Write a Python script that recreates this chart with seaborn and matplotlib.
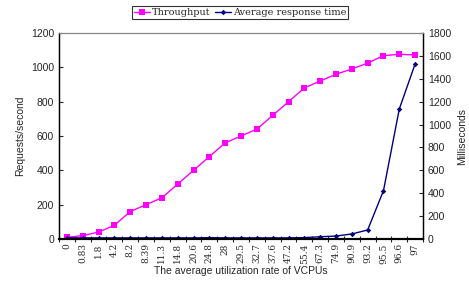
import numpy as np
import pandas as pd
import matplotlib
matplotlib.use('Agg')
import matplotlib.pyplot as plt
import seaborn as sns

# data
utilization = ['0', '0.83', '1.8', '4.2', '8.2', '8.39', '11.3', '14.8', '20.6', '24.8',
               '28', '29.5', '32.7', '37.6', '47.2', '55.4', '67.3', '74.9', '90.9',
               '93.2', '95.5', '96.6', '97']
throughput = [10, 20, 40, 80, 160, 200, 240, 320, 400, 480, 560, 600, 640, 720,
              800, 880, 920, 960, 990, 1025, 1068, 1076, 1072]
response_time = [10, 10, 10, 10, 10, 10, 10, 10, 10, 12, 10, 10, 10, 10,
                 10, 12, 20, 26, 44, 79, 422, 1136, 1530]

df = pd.DataFrame({'pos': np.arange(len(utilization)),
                   'throughput': throughput,
                   'response': response_time})

sns.set_style('white')
plt.rcParams['font.family'] = ['Liberation Sans', 'DejaVu Sans']

fig = plt.figure(figsize=(4.69, 2.87), dpi=100)
ax = fig.add_axes([0.1258, 0.1672, 0.7762, 0.7178])
ax2 = ax.twinx()

sns.lineplot(data=df, x='pos', y='throughput', ax=ax, color='#ff00ff', marker='s',
             markersize=4, markeredgewidth=0, linewidth=1, label='Throughput', legend=False)
sns.lineplot(data=df, x='pos', y='response', ax=ax2, color='#000080', marker='D',
             markersize=2.8, markeredgewidth=0, linewidth=1, label='Average response time',
             legend=False)

ax.set_xlim(-0.5, len(utilization) - 0.5)
ax.set_ylim(0, 1200)
ax.set_yticks(np.arange(0, 1201, 200))
ax2.set_ylim(0, 1800)
ax2.set_yticks(np.arange(0, 1801, 200))

ax.set_xticks(np.arange(len(utilization)))
ax.set_xticklabels(utilization, rotation=90, family='DejaVu Serif', fontsize=6.5)
ax.set_xticks(np.arange(-0.5, len(utilization)), minor=True)
ax.tick_params(axis='x', which='major', length=0, pad=3)
ax.tick_params(axis='x', which='minor', length=4, width=0.8, direction='inout', bottom=True)
ax.tick_params(axis='y', labelsize=7.5, direction='in', length=3, width=0.8, left=True)
ax2.tick_params(axis='y', labelsize=7.5, direction='in', length=3, width=0.8, right=True)

ax.set_xlabel('The average utilization rate of VCPUs', fontsize=7.5, labelpad=2)
ax.set_ylabel('Requests/second', fontsize=7.5)
ax2.set_ylabel('Milliseconds', fontsize=7.5)

for a in (ax, ax2):
    a.spines['top'].set_color('#888888')
    a.spines['top'].set_linewidth(0.8)
    a.spines['left'].set_color('black')
    a.spines['right'].set_color('black')
    a.spines['bottom'].set_color('black')
    a.spines['left'].set_linewidth(0.9)
    a.spines['right'].set_linewidth(0.9)
    a.spines['bottom'].set_linewidth(1.5)

h1, l1 = ax.get_legend_handles_labels()
h2, l2 = ax2.get_legend_handles_labels()
leg = fig.legend(h1 + h2, l1 + l2, loc='center', bbox_to_anchor=(0.512, 0.956), ncol=2,
                 frameon=True, fancybox=False, edgecolor='black', handlelength=1.6,
                 handletextpad=0.2, columnspacing=0.5, borderpad=0.2,
                 prop={'family': 'DejaVu Serif', 'size': 7})
leg.get_frame().set_linewidth(0.8)

fig.savefig('out.png', dpi=100)
